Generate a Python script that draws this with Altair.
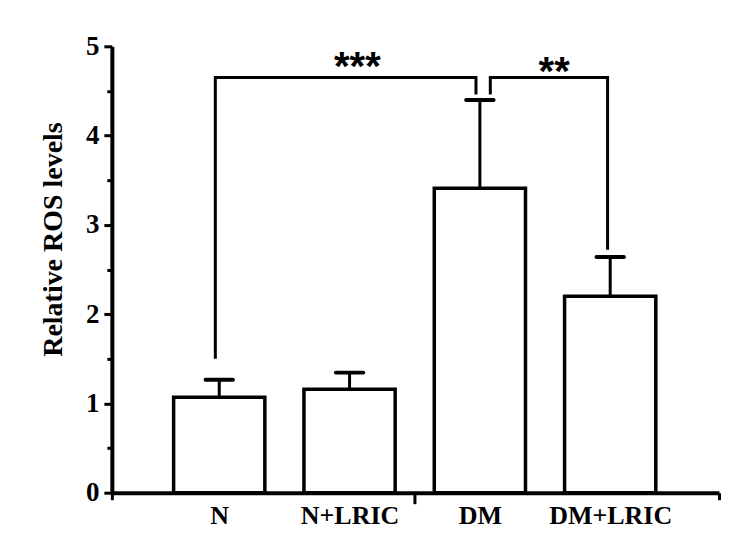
import altair as alt
import pandas as pd

# ---- data ----
groups = ["N", "N+LRIC", "DM", "DM+LRIC"]
pos = [0, 1, 2, 3]
means = [1.07, 1.16, 3.41, 2.20]
sds = [0.195, 0.185, 0.99, 0.44]

# significance brackets (x in group-index units, y in data units)
br_id = [1, 1, 1, 1, 2, 2, 2, 2]
br_order = [0, 1, 2, 3, 0, 1, 2, 3]
br_x = [-0.03, -0.03, 1.97, 1.97, 2.08, 2.08, 2.98, 2.98]
br_y = [1.50, 4.65, 4.65, 4.46, 4.46, 4.65, 4.65, 2.72]

star_text = ["***", "**"]
star_x = [1.06, 2.57]
star_y = [4.62, 4.565]

x_domain = [-0.824, 3.835]
y_ticks = [i * 0.5 for i in range(11)]
x_ticks = [x_domain[0], 0, 1, 1.5, 2, 3, x_domain[1]]

bars = pd.DataFrame({"group": groups, "pos": pos, "mean": means, "sd": sds})
brackets = pd.DataFrame({"id": br_id, "order": br_order, "x": br_x, "y": br_y})
stars = pd.DataFrame({"text": star_text, "x": star_x, "y": star_y})

SERIF = "Liberation Serif"

label_expr = " : ".join(
    f"datum.value == {p} ? '{g}'" for p, g in zip(pos, groups)
) + " : ''"
is_group = " || ".join(f"datum.value == {p}" for p in pos)

x_axis = alt.Axis(
    values=x_ticks,
    labelExpr=label_expr,
    labelFont=SERIF,
    labelFontWeight="bold",
    labelFontSize=26,
    labelColor="black",
    labelPadding=3,
    labelFlush=False,
    labelOverlap=False,
    tickColor="black",
    tickWidth=3,
    tickSize={"condition": {"test": "datum.value == 1.5", "value": 11}, "value": 7},
    tickOpacity={"condition": {"test": is_group, "value": 0}, "value": 1},
    domainColor="black",
    domainWidth=4,
    grid=False,
    title=None,
)

y_axis = alt.Axis(
    values=y_ticks,
    labelExpr="datum.value % 1 == 0 ? datum.value : ''",
    labelFont=SERIF,
    labelFontWeight="bold",
    labelFontSize=27,
    labelColor="black",
    labelPadding=5,
    labelFlush=False,
    labelOverlap=False,
    tickColor="black",
    tickWidth=3,
    tickSize={"condition": {"test": "datum.value % 1 == 0", "value": 8}, "value": 5},
    domainColor="black",
    domainWidth=4,
    grid=False,
    title="Relative ROS levels",
    titleFont=SERIF,
    titleFontWeight="bold",
    titleFontSize=28,
    titleColor="black",
    titlePadding=18,
    titleY=193,
)

xs = alt.Scale(domain=x_domain, nice=False, zero=False)
ys = alt.Scale(domain=[0, 5], nice=False)


def X(field):
    return alt.X(field, type="quantitative", scale=xs, axis=x_axis)


def Y(field):
    return alt.Y(field, type="quantitative", scale=ys, axis=y_axis)


base = alt.Chart(bars).transform_calculate(
    x0="datum.pos - 0.35",
    x1="datum.pos + 0.35",
    c0="datum.pos - 0.105",
    c1="datum.pos + 0.105",
    top="datum.mean + datum.sd",
)

bar_layer = base.mark_rect(fill="white", stroke="black", strokeWidth=3.5).encode(
    x=X("x0:Q"), x2="x1:Q", y=Y("mean:Q"), y2=alt.datum(0)
)

err_layer = base.mark_rule(color="black", strokeWidth=3).encode(
    x=X("pos:Q"), y=Y("mean:Q"), y2="top:Q"
)

cap_layer = base.mark_rule(color="black", strokeWidth=4, strokeCap="round").encode(
    x=X("c0:Q"), x2="c1:Q", y=Y("top:Q")
)

br_layer = alt.Chart(brackets).mark_line(
    color="black", strokeWidth=3, strokeJoin="miter"
).encode(
    x=X("x:Q"), y=Y("y:Q"), detail="id:N", order="order:Q"
)

star_layer = alt.Chart(stars).mark_text(
    font="Liberation Sans", fontWeight="bold", fontSize=40, color="black",
    baseline="alphabetic", align="center"
).encode(
    x=X("x:Q"), y=Y("y:Q"), text="text:N"
)

chart = (
    alt.layer(bar_layer, err_layer, cap_layer, br_layer, star_layer)
    .properties(
        width=608,
        height=447,
        autosize=alt.AutoSizeParams(type="none"),
        padding={"left": 104, "top": 38, "right": 10, "bottom": 50},
        background="white",
    )
    .configure_view(stroke=None)
)

chart.save("out.html", embed_options={"renderer": "svg", "actions": False})
